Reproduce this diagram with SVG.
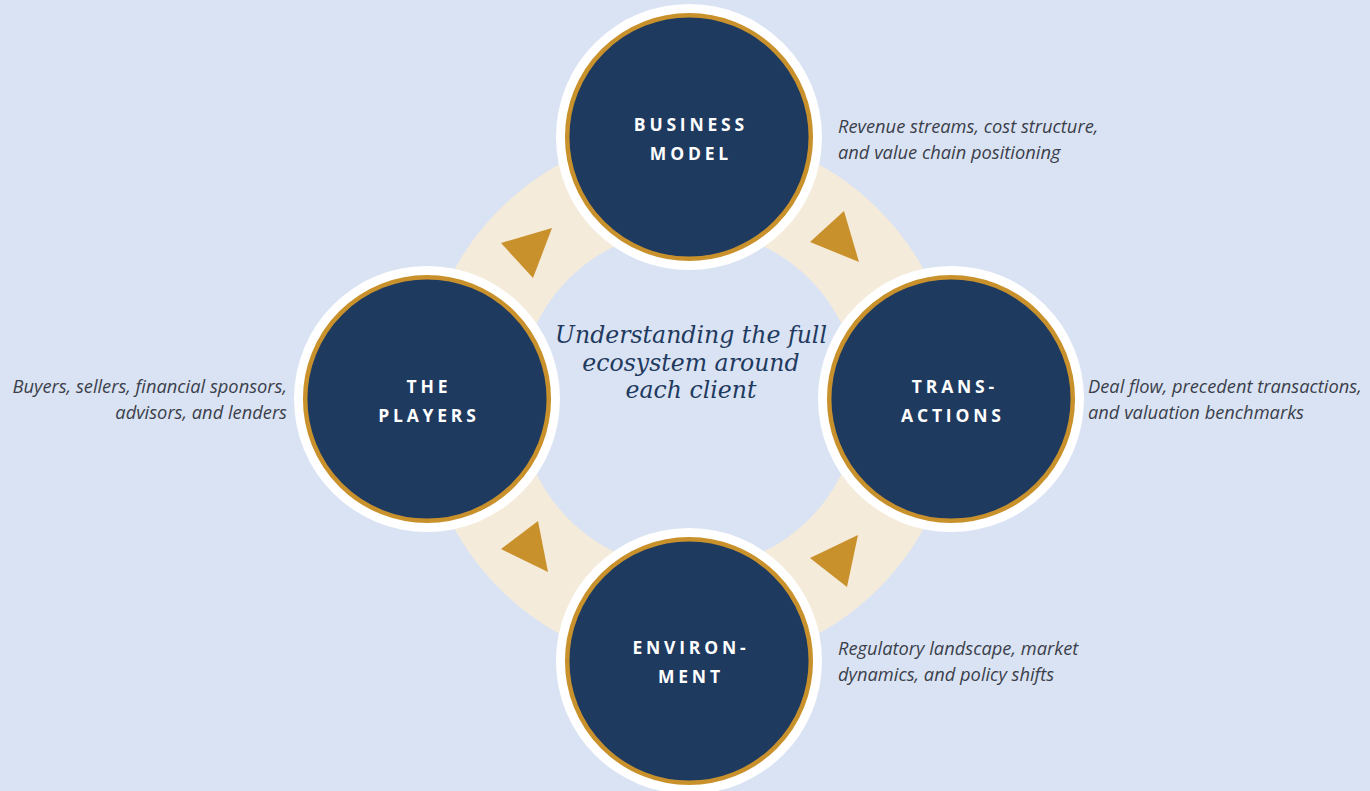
<svg xmlns="http://www.w3.org/2000/svg" width="1370" height="791" viewBox="0 0 1370 791">
  <style>
    .bg{fill:#DAE3F3}
    .ring{fill:none;stroke:#F5EBDA;stroke-width:98}
    .arrow{fill:#C9912C}
    .halo{fill:#FFFFFF}
    .disc{fill:#1F3A5F;stroke:#C9912C;stroke-width:4.5}
    .lbl{font-family:"Open Sans","DejaVu Sans",sans-serif;font-weight:700;font-size:17.5px;letter-spacing:3.8px;fill:#FFFFFF;text-anchor:middle}
    .note{font-family:"Open Sans","Liberation Sans",sans-serif;font-style:italic;font-size:18.3px;fill:#3A3F4B}
    .center{font-family:"DejaVu Serif","Liberation Serif",serif;font-style:italic;font-size:23.6px;fill:#1F3A5F;text-anchor:middle}
  </style>
  <rect class="bg" x="0" y="0" width="1370" height="791"/>
  <g id="connectors">
    <circle class="ring" cx="689" cy="399" r="219"/>
    <polygon class="arrow" points="501,243 552,228 533,278"/>
    <polygon class="arrow" points="844,211 810,242 859,262"/>
    <polygon class="arrow" points="858,535 810,558 847,587"/>
    <polygon class="arrow" points="538,521 501,549 548,572"/>
  </g>
  <g id="center-text">
    <text class="center" x="691" y="343">Understanding the full</text>
    <text class="center" x="691" y="371">ecosystem around</text>
    <text class="center" x="691" y="398">each client</text>
  </g>
  <g id="business-model">
    <circle class="halo" cx="689" cy="137" r="133"/>
    <circle class="disc" cx="689" cy="137" r="121.8"/>
    <text class="lbl" x="690.9" y="131">BUSINESS</text>
    <text class="lbl" x="690.9" y="160">MODEL</text>
    <text class="note" x="838" y="133">Revenue streams, cost structure,</text>
    <text class="note" x="838" y="159">and value chain positioning</text>
  </g>
  <g id="transactions">
    <circle class="halo" cx="951" cy="399" r="133"/>
    <circle class="disc" cx="951" cy="399" r="121.8"/>
    <text class="lbl" x="954.9" y="393">TRANS-</text>
    <text class="lbl" x="952.9" y="422">ACTIONS</text>
    <text class="note" x="1088" y="393">Deal flow, precedent transactions,</text>
    <text class="note" x="1088" y="419">and valuation benchmarks</text>
  </g>
  <g id="environment">
    <circle class="halo" cx="689" cy="661" r="133"/>
    <circle class="disc" cx="689" cy="661" r="121.8"/>
    <text class="lbl" x="690.9" y="654">ENVIRON-</text>
    <text class="lbl" x="690.9" y="683">MENT</text>
    <text class="note" x="838" y="655">Regulatory landscape, market</text>
    <text class="note" x="838" y="681">dynamics, and policy shifts</text>
  </g>
  <g id="the-players">
    <circle class="halo" cx="427" cy="399" r="133"/>
    <circle class="disc" cx="427" cy="399" r="121.8"/>
    <text class="lbl" x="428.9" y="393">THE</text>
    <text class="lbl" x="428.9" y="422">PLAYERS</text>
    <text class="note" x="287" y="393" text-anchor="end">Buyers, sellers, financial sponsors,</text>
    <text class="note" x="287" y="419" text-anchor="end">advisors, and lenders</text>
  </g>
</svg>
